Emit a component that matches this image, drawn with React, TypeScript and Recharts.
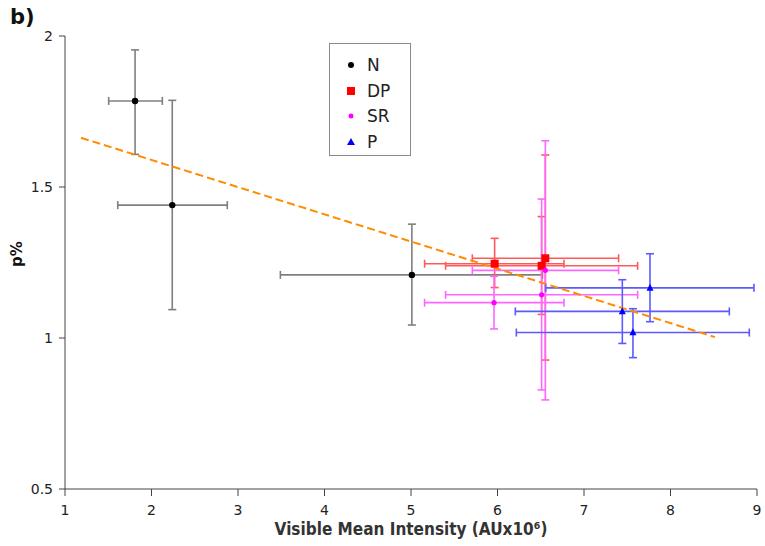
import { ScatterChart, Scatter, XAxis, YAxis, ErrorBar, Legend, Label } from "recharts"

// x = Visible Mean Intensity (AUx10^6), y = p%
const nX = [1.81, 2.24, 5.01]
const nY = [1.785, 1.44, 1.209]
const nXLow = [1.505, 1.61, 3.49]
const nXHigh = [2.125, 2.876, 6.52]
const nYLow = [1.608, 1.094, 1.043]
const nYHigh = [1.954, 1.787, 1.377]

const dpX = [5.967, 6.51, 6.553]
const dpY = [1.246, 1.239, 1.264]
const dpXLow = [5.157, 5.4, 5.709]
const dpXHigh = [6.769, 7.62, 7.4]
const dpYLow = [1.167, 1.078, 0.927]
const dpYHigh = [1.33, 1.402, 1.606]

const srX = [5.96, 6.51, 6.553]
const srY = [1.117, 1.143, 1.224]
const srXLow = [5.157, 5.4, 5.709]
const srXHigh = [6.769, 7.62, 7.4]
const srYLow = [1.03, 0.828, 0.795]
const srYHigh = [1.204, 1.46, 1.653]

const pX = [7.763, 7.443, 7.566]
const pY = [1.166, 1.088, 1.018]
const pXLow = [6.557, 6.206, 6.218]
const pXHigh = [8.965, 8.68, 8.911]
const pYLow = [1.054, 0.982, 0.935]
const pYHigh = [1.279, 1.193, 1.097]

const trendX = [1.185, 8.514]
const trendY = [1.663, 1.003]

const xTicks = [1, 2, 3, 4, 5, 6, 7, 8, 9]
const yTicks = [0.5, 1, 1.5, 2]

const FONT = "'DejaVu Sans', Verdana, sans-serif"
const FONT_COND = "'DejaVu Sans Condensed', 'DejaVu Sans', sans-serif"

function build(x: number[], y: number[], xLo: number[], xHi: number[], yLo: number[], yHi: number[]) {
  return x.map((v, i) => ({
    x: v,
    y: y[i],
    ex: [v - xLo[i], xHi[i] - v],
    ey: [y[i] - yLo[i], yHi[i] - y[i]],
  }))
}

const nData = build(nX, nY, nXLow, nXHigh, nYLow, nYHigh)
const dpData = build(dpX, dpY, dpXLow, dpXHigh, dpYLow, dpYHigh)
const srData = build(srX, srY, srXLow, srXHigh, srYLow, srYHigh)
const pData = build(pX, pY, pXLow, pXHigh, pYLow, pYHigh)
const trendData = trendX.map((v, i) => ({ x: v, y: trendY[i] }))

const dot = (r: number, fill: string) => (p: any) => <circle cx={p.cx} cy={p.cy} r={r} fill={fill} />
const square = (s: number, fill: string) => (p: any) => (
  <rect x={p.cx - s / 2} y={p.cy - s / 2} width={s} height={s} fill={fill} />
)
const triangle = (s: number, fill: string) => (p: any) => (
  <polygon
    points={`${p.cx},${p.cy - s * 0.6} ${p.cx - s / 2},${p.cy + s * 0.4} ${p.cx + s / 2},${p.cy + s * 0.4}`}
    fill={fill}
  />
)

const legendItems = [
  { name: "N", icon: <circle cx={7} cy={7} r={3} fill="#000" /> },
  { name: "DP", icon: <rect x={3} y={3} width={8} height={8} fill="#ff0000" /> },
  { name: "SR", icon: <circle cx={7} cy={7} r={2.5} fill="#ff00ff" /> },
  { name: "P", icon: <polygon points="7,3 3,10 11,10" fill="#0000ff" /> },
]

function LegendBox() {
  return (
    <div
      style={{
        width: 82,
        height: 113,
        border: "1px solid #8a8a8a",
        background: "#fff",
        boxSizing: "border-box",
        paddingTop: 8,
        fontFamily: FONT,
      }}
    >
      {legendItems.map((item) => (
        <div key={item.name} style={{ display: "flex", alignItems: "center", height: 25.7 }}>
          <svg width={14} height={14} style={{ marginLeft: 14, marginRight: 9 }}>
            {item.icon}
          </svg>
          <span style={{ fontSize: 17, color: "#222" }}>{item.name}</span>
        </div>
      ))}
    </div>
  )
}

const tickStyle = { fontSize: 14, fill: "#222", fontFamily: FONT }

export default function App() {
  return (
    <div style={{ position: "absolute", left: 0, top: 0, width: 765, height: 546, background: "#fff" }}>
      <div
        style={{
          position: "absolute",
          left: 10,
          top: 5,
          fontFamily: FONT,
          fontWeight: "bold",
          fontSize: 21,
          lineHeight: "24px",
          color: "#111",
          zIndex: 2,
        }}
      >
        b)
      </div>
      <ScatterChart width={765} height={546} margin={{ top: 36, right: 8, bottom: 0, left: 0 }}>
        <XAxis
          type="number"
          dataKey="x"
          domain={[1, 9]}
          ticks={xTicks}
          allowDataOverflow
          height={57}
          stroke="#444"
          tickLine={{ stroke: "#444" }}
          tickSize={7}
          tickMargin={9}
          tick={tickStyle}
        >
          <Label
            content={() => (
              <text x={411} y={535} textAnchor="middle" fontFamily={FONT_COND} fontWeight="bold" fontSize={17} fill="#333">
                Visible Mean Intensity (AUx10⁶)
              </text>
            )}
          />
        </XAxis>
        <YAxis
          type="number"
          dataKey="y"
          domain={[0.5, 2]}
          ticks={yTicks}
          allowDataOverflow
          width={65}
          stroke="#444"
          tickLine={{ stroke: "#444" }}
          tickSize={6}
          tickMargin={6}
          tick={tickStyle}
        >
          <Label
            content={() => (
              <text
                x={22}
                y={254}
                transform="rotate(-90 22 254)"
                textAnchor="middle"
                fontFamily={FONT}
                fontWeight="bold"
                fontSize={15}
                fill="#111"
              >
                p%
              </text>
            )}
          />
        </YAxis>
        <Legend
          layout="vertical"
          align="center"
          verticalAlign="middle"
          content={LegendBox}
          wrapperStyle={{ position: "absolute", left: 329, top: 43, width: 84, height: 115 }}
        />
        <Scatter
          data={trendData}
          isAnimationActive={false}
          line={{ stroke: "#ff8c00", strokeWidth: 2, strokeDasharray: "8 4" }}
          shape={() => <g />}
          legendType="none"
        />
        <Scatter name="N" data={nData} isAnimationActive={false} shape={dot(3.2, "#000")}>
          <ErrorBar dataKey="ex" direction="x" stroke="#7f7f7f" strokeWidth={1.6} width={4} />
          <ErrorBar dataKey="ey" direction="y" stroke="#7f7f7f" strokeWidth={1.6} width={4} />
        </Scatter>
        <Scatter name="DP" data={dpData} isAnimationActive={false} shape={square(8, "#ff0000")}>
          <ErrorBar dataKey="ex" direction="x" stroke="#ff5a5a" strokeWidth={1.6} width={4} />
          <ErrorBar dataKey="ey" direction="y" stroke="#ff5a5a" strokeWidth={1.6} width={4} />
        </Scatter>
        <Scatter name="SR" data={srData} isAnimationActive={false} shape={dot(2.6, "#ff00ff")}>
          <ErrorBar dataKey="ex" direction="x" stroke="#ff66ff" strokeWidth={1.6} width={4} />
          <ErrorBar dataKey="ey" direction="y" stroke="#ff66ff" strokeWidth={1.6} width={4} />
        </Scatter>
        <Scatter name="P" data={pData} isAnimationActive={false} shape={triangle(7, "#0000ff")}>
          <ErrorBar dataKey="ex" direction="x" stroke="#5a5aff" strokeWidth={1.6} width={4} />
          <ErrorBar dataKey="ey" direction="y" stroke="#5a5aff" strokeWidth={1.6} width={4} />
        </Scatter>
      </ScatterChart>
    </div>
  )
}
